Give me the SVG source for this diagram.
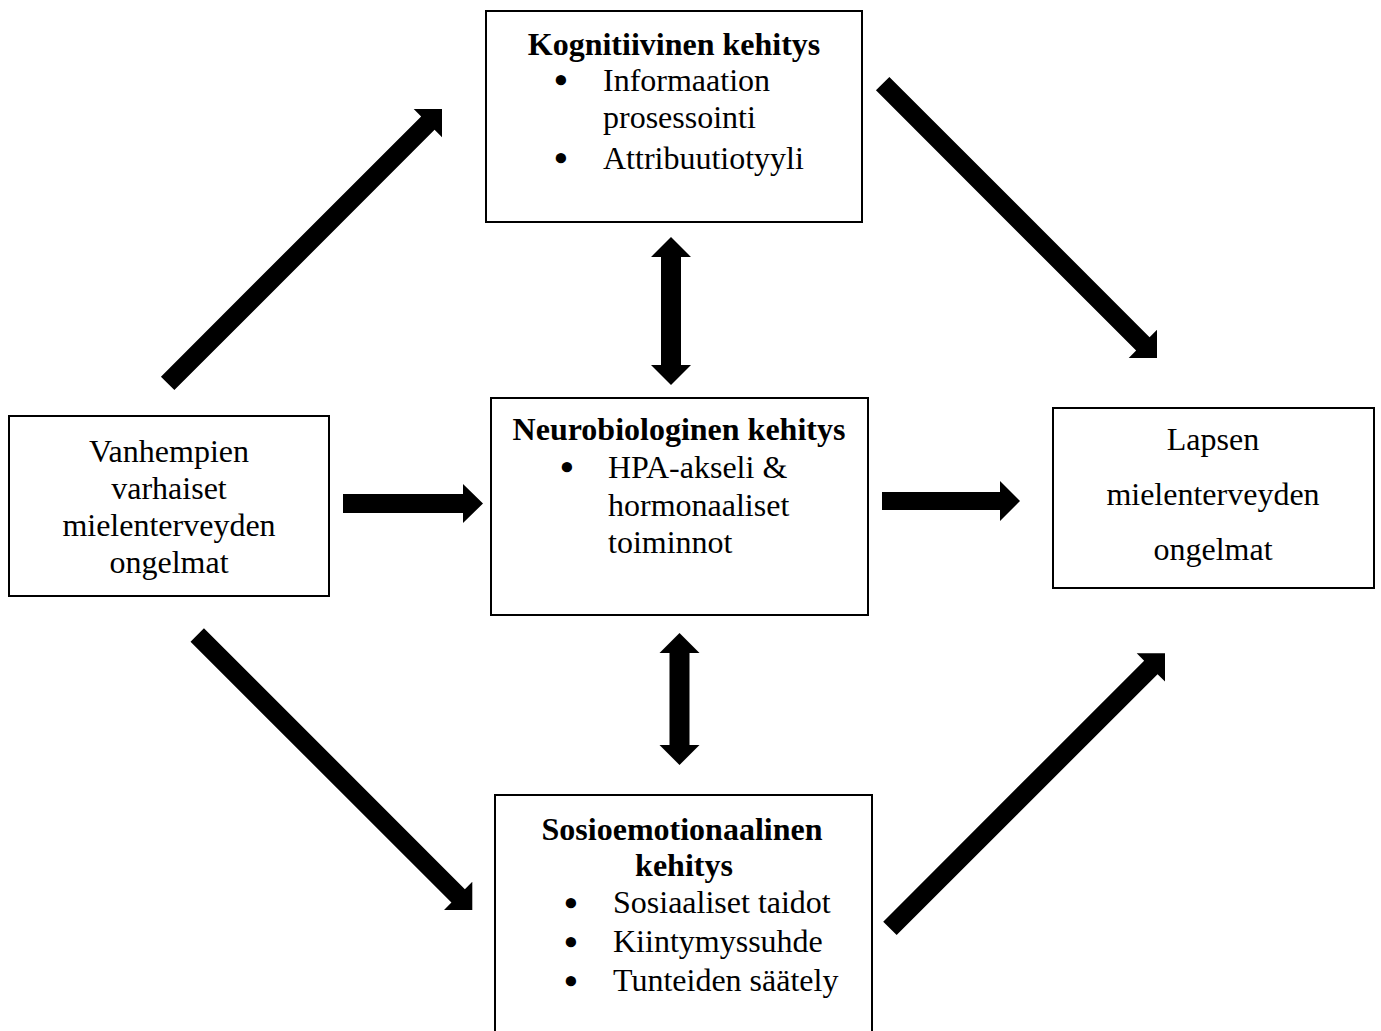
<svg xmlns="http://www.w3.org/2000/svg" width="1381" height="1031" viewBox="0 0 1381 1031">
<style>
.box{fill:#fff;stroke:#000;stroke-width:2}
text{font-family:"Liberation Serif","Times New Roman",serif;font-size:32px;fill:#000}
.b{font-weight:bold}
.c{text-anchor:middle}
.bl{font-size:38px;font-weight:bold;text-anchor:middle}
.t{text-anchor:start}
.arr{fill:#000;stroke:none}
</style>
<rect width="1381" height="1031" fill="#fff"/>
<g id="connectors">
<polygon class="arr" transform="translate(442,109) rotate(-45)" points="0,0 -20,-20 -20,-9.5 -388,-9.5 -388,9.5 -20,9.5 -20,20"/>
<polygon class="arr" transform="translate(1157,358) rotate(45)" points="0,0 -20,-20 -20,-9.5 -388,-9.5 -388,9.5 -20,9.5 -20,20"/>
<polygon class="arr" transform="translate(472.3,910) rotate(45)" points="0,0 -20,-20 -20,-9.5 -389,-9.5 -389,9.5 -20,9.5 -20,20"/>
<polygon class="arr" transform="translate(1165,653.3) rotate(-45)" points="0,0 -20,-20 -20,-9.5 -389,-9.5 -389,9.5 -20,9.5 -20,20"/>
<polygon class="arr" points="343,494 463,494 463,484 483,503.5 463,523 463,513 343,513"/>
<polygon class="arr" points="882,492 1000,492 1000,481 1020,501 1000,521 1000,510 882,510"/>
<polygon class="arr" points="671,237 691,257 681,257 681,365 691,365 671,385 651,365 661,365 661,257 651,257"/>
<polygon class="arr" points="679.5,633 699.5,653 689.5,653 689.5,745 699.5,745 679.5,765 659.5,745 669.5,745 669.5,653 659.5,653"/>
</g>
<g id="kognitiivinen">
<rect class="box" x="486" y="11" width="376" height="211"/>
<text class="b c" x="674" y="55">Kognitiivinen kehitys</text>
<text y="91"><tspan x="561" dy="2" class="bl">•</tspan><tspan x="603" dy="-2" class="t">Informaation</tspan></text>
<text x="603" y="128">prosessointi</text>
<text y="169"><tspan x="561" dy="2" class="bl">•</tspan><tspan x="603" dy="-2" class="t">Attribuutiotyyli</tspan></text>
</g>
<g id="vanhempien">
<rect class="box" x="9" y="416" width="320" height="180"/>
<text class="c" x="169" y="462">Vanhempien</text>
<text class="c" x="169" y="499">varhaiset</text>
<text class="c" x="169" y="536">mielenterveyden</text>
<text class="c" x="169" y="573">ongelmat</text>
</g>
<g id="neurobiologinen">
<rect class="box" x="491" y="398" width="377" height="217"/>
<text class="b c" x="679" y="440">Neurobiologinen kehitys</text>
<text y="478"><tspan x="567" dy="2" class="bl">•</tspan><tspan x="608" dy="-2" class="t">HPA-akseli &amp;</tspan></text>
<text x="608" y="516">hormonaaliset</text>
<text x="608" y="553">toiminnot</text>
</g>
<g id="lapsen">
<rect class="box" x="1053" y="408" width="321" height="180"/>
<text class="c" x="1213" y="450">Lapsen</text>
<text class="c" x="1213" y="505">mielenterveyden</text>
<text class="c" x="1213" y="560">ongelmat</text>
</g>
<g id="sosioemotionaalinen">
<rect class="box" x="495" y="795" width="377" height="260"/>
<text class="b c" x="682" y="840">Sosioemotionaalinen</text>
<text class="b c" x="684" y="876">kehitys</text>
<text y="913"><tspan x="571" dy="3" class="bl">•</tspan><tspan x="613" dy="-3" class="t">Sosiaaliset taidot</tspan></text>
<text y="952"><tspan x="571" dy="3" class="bl">•</tspan><tspan x="613" dy="-3" class="t">Kiintymyssuhde</tspan></text>
<text y="991"><tspan x="571" dy="3" class="bl">•</tspan><tspan x="613" dy="-3" class="t">Tunteiden säätely</tspan></text>
</g>
</svg>
